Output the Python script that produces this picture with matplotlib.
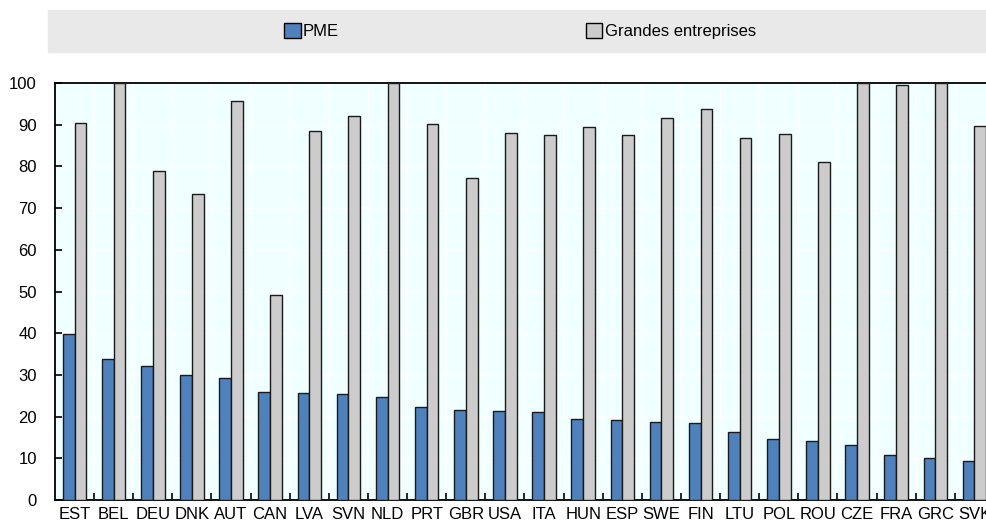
import numpy as np
import matplotlib.pyplot as plt
from matplotlib.patches import Patch, Rectangle

# Données par pays
pays = ['EST', 'BEL', 'DEU', 'DNK', 'AUT', 'CAN', 'LVA', 'SVN', 'NLD', 'PRT', 'GBR', 'USA',
        'ITA', 'HUN', 'ESP', 'SWE', 'FIN', 'LTU', 'POL', 'ROU', 'CZE', 'FRA', 'GRC', 'SVK']
pme = [39.7, 33.7, 32.1, 29.9, 29.3, 25.8, 25.7, 25.4, 24.6, 22.2, 21.7, 21.3,
       21.2, 19.5, 19.3, 18.7, 18.4, 16.2, 14.7, 14.1, 13.2, 10.9, 10.0, 9.4]
grandes = [90.3, 100, 78.9, 73.3, 95.8, 49.2, 88.6, 92.0, 100, 90.2, 77.1, 87.9,
           87.6, 89.5, 87.6, 91.5, 93.8, 86.7, 87.8, 81.0, 100, 99.6, 100, 89.7]

plt.rcParams['font.family'] = 'Liberation Sans'
plt.rcParams['font.size'] = 12

W, H = 987, 524
fig = plt.figure(figsize=(W / 100, H / 100), dpi=100)
ax = fig.add_axes([55 / W, 24 / H, (994 - 55) / W, (500 - 83) / H])

x = np.arange(len(pays))
bw = 0.3
ax.bar(x - bw / 2, pme, bw, color='#4F81BD', edgecolor='#1A1A1A', linewidth=1.0, zorder=3)
ax.bar(x + bw / 2, grandes, bw, color='#CCCCCC', edgecolor='#1A1A1A', linewidth=1.0, zorder=3)

ax.set_facecolor('#F0FFFF')
ax.set_xlim(-0.5, len(pays) - 0.5)
ax.set_ylim(0, 100)
ax.set_yticks(np.arange(0, 101, 10))

# étiquettes au centre, petits traits entre les pays
ax.set_xticks(x)
ax.set_xticklabels(pays)
ax.set_xticks(x[:-1] + 0.5, minor=True)
ax.tick_params(axis='x', which='major', length=0, pad=5)
ax.tick_params(axis='x', which='minor', direction='in', length=5, width=1.2, color='black')
ax.tick_params(axis='y', direction='in', length=5, width=1.2, pad=13)

ax.grid(axis='y', color='white', linewidth=1.2, zorder=0)
ax.grid(axis='x', which='minor', color='white', linewidth=1.2, zorder=0)
for s in ['left', 'top', 'bottom']:
    ax.spines[s].set_linewidth(1.3)
ax.spines['right'].set_visible(False)

# bandeau de légende
fig.patches.append(Rectangle((48 / W, 1 - 52 / H), (W - 48) / W, 42 / H,
                             transform=fig.transFigure, color='#E9E9E9', zorder=0))
handles = [Patch(facecolor='#4F81BD', edgecolor='black', label='PME'),
           Patch(facecolor='#CCCCCC', edgecolor='black', label='Grandes entreprises')]
fig.legend(handles=handles, loc='center', bbox_to_anchor=(520 / W, 1 - 31 / H), ncol=2,
           frameon=False, handlelength=1.0, handleheight=1.0, handletextpad=0.15,
           columnspacing=14.8)

fig.savefig('out.png', dpi=100)
